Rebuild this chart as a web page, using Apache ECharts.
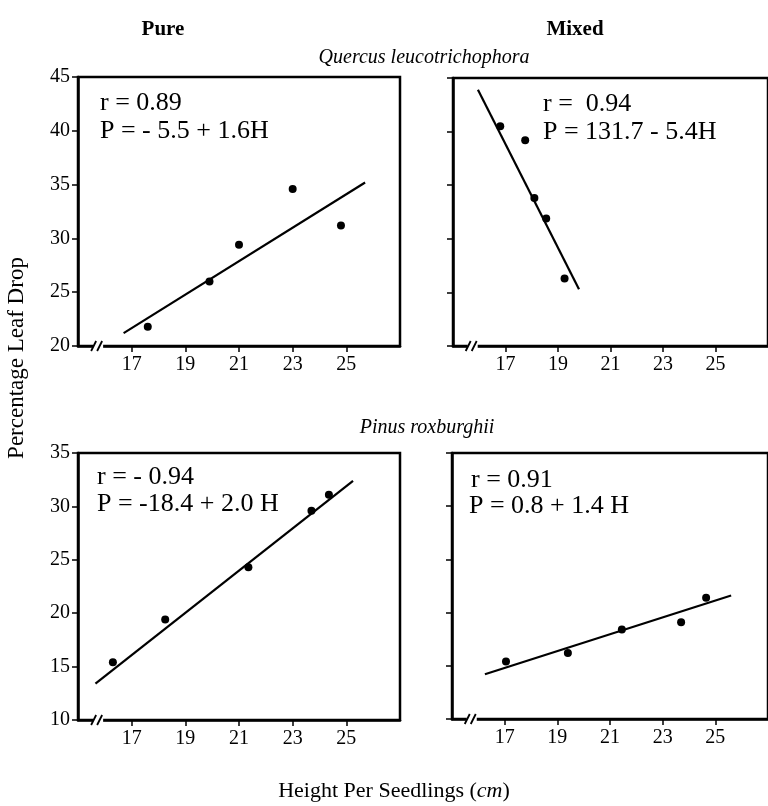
<!DOCTYPE html>
<html>
<head>
<meta charset="utf-8">
<script src="https://cdn.jsdelivr.net/npm/echarts@6/dist/echarts.min.js"></script>
<style>
  html, body { margin: 0; padding: 0; background: #fff; }
  #chart { width: 768px; height: 806px; }
</style>
</head>
<body>
<div id="chart"></div>
<script>
// tick labels
var xTicks = [17, 19, 21, 23, 25];
var quercusTicks = [20, 25, 30, 35, 40, 45];
var pinusTicks = [10, 15, 20, 25, 30, 35];

// Quercus leucotrichophora, pure stand
var qPureH = [17.6, 19.9, 21.0, 23.0, 24.8];
var qPureP = [21.8, 26.0, 29.4, 34.6, 31.2];
var qPureFit = [[16.7, 21.2], [25.7, 35.2]];

// Quercus leucotrichophora, mixed stand
var qMixH = [16.8, 17.75, 18.1, 18.55, 19.25];
var qMixP = [40.5, 39.2, 33.8, 31.9, 26.3];
var qMixFit = [[15.95, 43.9], [19.8, 25.3]];

// Pinus roxburghii, pure stand
var pPureH = [16.3, 18.25, 21.35, 23.7, 24.35];
var pPureP = [15.4, 19.4, 24.3, 29.6, 31.1];
var pPureFit = [[15.65, 13.4], [25.25, 32.4]];

// Pinus roxburghii, mixed stand
var pMixH = [17.05, 19.4, 21.45, 23.7, 24.65];
var pMixP = [15.4, 16.2, 18.4, 19.1, 21.4];
var pMixFit = [[16.25, 14.2], [25.6, 21.6]];

var serif = '"Liberation Serif", "DejaVu Serif", serif';

function pts(h, p) {
    var out = [];
    for (var i = 0; i < h.length; i++) {
        out.push([h[i], p[i]]);
    }
    return out;
}

var grids = [
    {left: 78, top: 77, width: 322, height: 269},
    {left: 453, top: 78, width: 320, height: 268},
    {left: 78, top: 453, width: 322, height: 267},
    {left: 452, top: 453, width: 320, height: 266}
];

var yTickSets = [quercusTicks, quercusTicks, pinusTicks, pinusTicks];

var chart = echarts.init(document.getElementById('chart'));

var option = {
    backgroundColor: '#fff',
    animation: false,
    grid: grids.map(function (g) {
        return Object.assign({show: true, borderColor: '#000', borderWidth: 2.5, backgroundColor: 'transparent'}, g);
    }),
    xAxis: grids.map(function (g, i) {
        return {
            type: 'value',
            gridIndex: i,
            min: 15,
            max: 27,
            axisLine: {lineStyle: {color: '#000', width: 2.5}},
            axisTick: {show: true, customValues: xTicks, length: 6, lineStyle: {color: '#000', width: 1.5}},
            axisLabel: {customValues: xTicks, margin: 9, color: '#000', fontSize: 20, fontFamily: serif},
            splitLine: {show: false}
        };
    }),
    yAxis: grids.map(function (g, i) {
        var t = yTickSets[i];
        return {
            type: 'value',
            gridIndex: i,
            min: t[0],
            max: t[t.length - 1],
            interval: 5,
            axisLine: {lineStyle: {color: '#000', width: 2.5}},
            axisTick: {show: true, length: 6, lineStyle: {color: '#000', width: 1.5}},
            axisLabel: {show: i % 2 === 0, margin: 8, color: '#000', fontSize: 20, fontFamily: serif},
            splitLine: {show: false}
        };
    }),
    series: []
};

var sets = [
    [qPureH, qPureP, qPureFit],
    [qMixH, qMixP, qMixFit],
    [pPureH, pPureP, pPureFit],
    [pMixH, pMixP, pMixFit]
];

sets.forEach(function (s, i) {
    option.series.push({
        type: 'line',
        xAxisIndex: i,
        yAxisIndex: i,
        data: s[2],
        showSymbol: false,
        lineStyle: {color: '#000', width: 2.2},
        z: 3
    });
    option.series.push({
        type: 'scatter',
        xAxisIndex: i,
        yAxisIndex: i,
        data: pts(s[0], s[1]),
        symbolSize: 8,
        itemStyle: {color: '#000', opacity: 1},
        z: 4
    });
});

chart.setOption(option);

// texts and axis break marks
function txt(str, x, y, size, opts) {
    opts = opts || {};
    return {
        type: 'text',
        x: x,
        y: y,
        rotation: opts.rotation || 0,
        z: 10,
        style: {
            text: str,
            fill: '#000',
            font: (opts.style || '') + ' ' + (opts.weight || 'normal') + ' ' + size + 'px ' + serif,
            align: opts.align || 'left',
            verticalAlign: 'middle'
        }
    };
}

var graphics = [
    txt('Pure', 163, 30, 21, {align: 'center', weight: 'bold'}),
    txt('Mixed', 575, 30, 21, {align: 'center', weight: 'bold'}),
    txt('Quercus leucotrichophora', 424, 58, 20, {align: 'center', style: 'italic'}),
    txt('Pinus roxburghii', 427, 428, 20, {align: 'center', style: 'italic'}),
    txt('Percentage Leaf Drop', 17, 358, 23, {align: 'center', rotation: Math.PI / 2}),
    {
        type: 'text', x: 394, y: 791, z: 10,
        style: {
            text: '{n|Height Per Seedlings (}{i|cm}{n|)}',
            align: 'center', verticalAlign: 'middle', fill: '#000',
            rich: {
                n: {fontSize: 22, fontFamily: serif, fill: '#000'},
                i: {fontSize: 22, fontFamily: serif, fontStyle: 'italic', fill: '#000'}
            }
        }
    },
    txt('r = 0.89', 100, 103, 26),
    txt('P = - 5.5 + 1.6H', 100, 131, 26),
    txt('r =  0.94', 543, 104, 26),
    txt('P = 131.7 - 5.4H', 543, 132, 26),
    txt('r = - 0.94', 97, 477, 26),
    txt('P = -18.4 + 2.0 H', 97, 504, 26),
    txt('r = 0.91', 471, 480, 26),
    txt('P = 0.8 + 1.4 H', 469, 506, 26)
];

grids.forEach(function (g, i) {
    var ymin = yTickSets[i][0];
    var p = chart.convertToPixel({gridIndex: i}, [15.75, ymin]);
    graphics.push({
        type: 'rect', z: 9,
        shape: {x: p[0] - 5, y: p[1] - 3, width: 10, height: 6},
        style: {fill: '#fff'}
    });
    graphics.push({
        type: 'line', z: 10,
        shape: {x1: p[0] - 7, y1: p[1] + 5, x2: p[0] - 2, y2: p[1] - 5},
        style: {stroke: '#000', lineWidth: 1.8}
    });
    graphics.push({
        type: 'line', z: 10,
        shape: {x1: p[0] - 1, y1: p[1] + 5, x2: p[0] + 4, y2: p[1] - 5},
        style: {stroke: '#000', lineWidth: 1.8}
    });
});

chart.setOption({graphic: graphics});
</script>
</body>
</html>
